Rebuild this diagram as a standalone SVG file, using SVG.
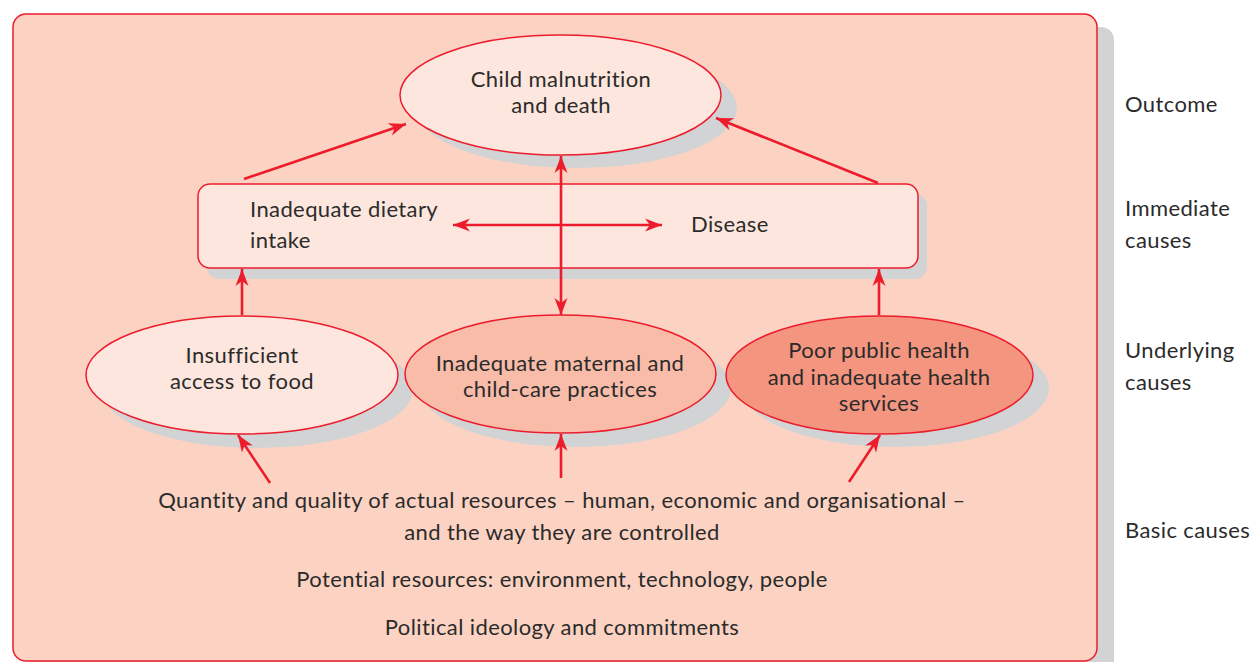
<svg xmlns="http://www.w3.org/2000/svg" width="1254" height="662" viewBox="0 0 1254 662">
<style>
.t{font-family:Lato,"Liberation Sans",sans-serif;font-size:22px;letter-spacing:0.4px;fill:#2b2b2b}
.m{text-anchor:middle}
.sh{fill:#d1d3d4}
.node{stroke:#ec1c2d;stroke-width:1.5}
.light{fill:#fde6dd}
.mid{fill:#f9bca9}
.dark{fill:#f4957f}
.c{stroke:#ec1c2d;stroke-width:2.6;fill:none}
</style>
<defs>
<marker id="ah" viewBox="-17 -8 18 16" refX="0" refY="0" markerWidth="18" markerHeight="16" markerUnits="userSpaceOnUse" orient="auto-start-reverse">
<path d="M0,0 L-17,-6.5 L-12,0 L-17,6.5 Z" fill="#ec1c2d"/>
</marker>
</defs>
<rect width="1254" height="662" fill="#ffffff"/>
<g id="frame">
<rect x="30" y="27" width="1084" height="660" rx="13" class="sh"/>
<rect x="13" y="14" width="1084" height="647" rx="13" fill="#fcd3c2" stroke="#ec1c2d" stroke-width="1.5"/>
</g>
<g id="shadows">
<ellipse cx="576.5" cy="108" rx="160.5" ry="60" class="sh"/>
<rect x="207" y="194" width="720" height="85" rx="12" class="sh"/>
<ellipse cx="257" cy="389" rx="156" ry="59" class="sh"/>
<ellipse cx="575.5" cy="388" rx="155.5" ry="59" class="sh"/>
<ellipse cx="895.5" cy="388" rx="153.5" ry="59" class="sh"/>
</g>
<g id="outcome">
<ellipse cx="560.5" cy="95" rx="160.5" ry="60" class="node light"/>
<text class="t m" x="561" y="87">Child malnutrition</text>
<text class="t m" x="561" y="113">and death</text>
</g>
<g id="immediate">
<rect x="198" y="184" width="720" height="84" rx="12" class="node light"/>
<text class="t" x="250" y="217">Inadequate dietary</text>
<text class="t" x="250" y="248">intake</text>
<text class="t" x="691" y="232">Disease</text>
</g>
<g id="food">
<ellipse cx="242" cy="375" rx="156" ry="59" class="node light"/>
<text class="t m" x="242" y="363">Insufficient</text>
<text class="t m" x="242" y="389">access to food</text>
</g>
<g id="care">
<ellipse cx="560.5" cy="374" rx="155.5" ry="59" class="node mid"/>
<text class="t m" x="560" y="371">Inadequate maternal and</text>
<text class="t m" x="560" y="397">child-care practices</text>
</g>
<g id="health">
<ellipse cx="879.5" cy="375" rx="153.5" ry="59" class="node dark"/>
<text class="t m" x="879" y="358">Poor public health</text>
<text class="t m" x="879" y="385">and inadequate health</text>
<text class="t m" x="879" y="411">services</text>
</g>
<g id="basic">
<text class="t m" x="562" y="508">Quantity and quality of actual resources – human, economic and organisational –</text>
<text class="t m" x="562" y="540">and the way they are controlled</text>
<text class="t m" x="562" y="587">Potential resources: environment, technology, people</text>
<text class="t m" x="562" y="635">Political ideology and commitments</text>
</g>
<g id="levels">
<text class="t" x="1125" y="112">Outcome</text>
<text class="t" x="1125" y="216">Immediate</text>
<text class="t" x="1125" y="248">causes</text>
<text class="t" x="1125" y="358">Underlying</text>
<text class="t" x="1125" y="390">causes</text>
<text class="t" x="1125" y="538">Basic causes</text>
</g>
<g id="connectors">
<line class="c" x1="244" y1="179" x2="406" y2="124" marker-end="url(#ah)"/>
<line class="c" x1="878" y1="183" x2="716" y2="118" marker-end="url(#ah)"/>
<line class="c" x1="561" y1="156" x2="561" y2="315" marker-start="url(#ah)" marker-end="url(#ah)"/>
<line class="c" x1="453" y1="225" x2="662" y2="225" marker-start="url(#ah)" marker-end="url(#ah)"/>
<line class="c" x1="242" y1="315" x2="242" y2="269" marker-end="url(#ah)"/>
<line class="c" x1="879" y1="315" x2="879" y2="269" marker-end="url(#ah)"/>
<line class="c" x1="270" y1="483" x2="238" y2="435" marker-end="url(#ah)"/>
<line class="c" x1="561" y1="478" x2="561" y2="434" marker-end="url(#ah)"/>
<line class="c" x1="849" y1="482" x2="880" y2="435" marker-end="url(#ah)"/>
</g>
</svg>
